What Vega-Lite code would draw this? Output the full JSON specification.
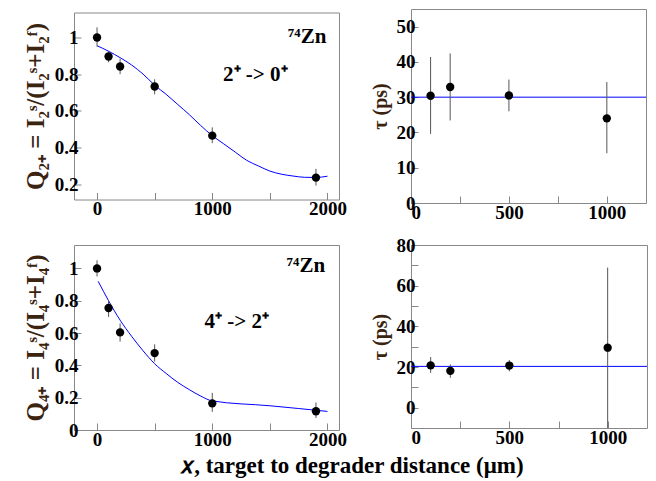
{
  "$schema": "https://vega.github.io/schema/vega-lite/v6.json",
  "padding": {"left": 22, "top": 8, "right": 5, "bottom": 5},
  "background": "white",
  "config": {
    "view": {"stroke": "#888888", "strokeWidth": 1},
    "axis": {"grid": false, "domain": false, "tickColor": "#888888", "tickSize": -7, "tickWidth": 1,
      "labelFont": "Liberation Serif", "labelFontSize": 19, "labelFontWeight": "bold", "labelColor": "#000000",
      "titleFont": "Liberation Serif", "titleFontSize": 20, "titleFontWeight": "bold", "titleColor": "#3a2410"},
    "axisX": {"labelPadding": 7},
    "axisY": {"labelPadding": 3, "titlePadding": 6}
  },
  "datasets": {
    "q2pts": [
      {"x": 0, "y": 1.0, "lo": 0.95, "hi": 1.055},
      {"x": 100, "y": 0.896, "lo": 0.865, "hi": 0.927},
      {"x": 200, "y": 0.842, "lo": 0.80, "hi": 0.884},
      {"x": 500, "y": 0.733, "lo": 0.69, "hi": 0.772},
      {"x": 1000, "y": 0.465, "lo": 0.424, "hi": 0.51},
      {"x": 1900, "y": 0.236, "lo": 0.193, "hi": 0.284}
    ],
    "q2fit": [
      {"x": 0, "y": 0.955}, {"x": 100, "y": 0.925}, {"x": 200, "y": 0.89}, {"x": 300, "y": 0.85},
      {"x": 400, "y": 0.80}, {"x": 500, "y": 0.74}, {"x": 600, "y": 0.69}, {"x": 700, "y": 0.635},
      {"x": 800, "y": 0.58}, {"x": 900, "y": 0.52}, {"x": 1000, "y": 0.465}, {"x": 1100, "y": 0.42},
      {"x": 1200, "y": 0.375}, {"x": 1300, "y": 0.33}, {"x": 1400, "y": 0.30}, {"x": 1500, "y": 0.272},
      {"x": 1600, "y": 0.255}, {"x": 1700, "y": 0.245}, {"x": 1800, "y": 0.238}, {"x": 1900, "y": 0.237},
      {"x": 2000, "y": 0.244}
    ],
    "q2txt": [
      {"x": 1824, "y": 1.005, "t": "⁷⁴Zn"},
      {"x": 1374, "y": 0.797, "t": "2⁺ -> 0⁺"}
    ],
    "q4pts": [
      {"x": 0, "y": 1.0, "lo": 0.95, "hi": 1.05},
      {"x": 100, "y": 0.755, "lo": 0.70, "hi": 0.802},
      {"x": 200, "y": 0.604, "lo": 0.547, "hi": 0.66},
      {"x": 500, "y": 0.476, "lo": 0.424, "hi": 0.53},
      {"x": 1000, "y": 0.165, "lo": 0.112, "hi": 0.23},
      {"x": 1900, "y": 0.116, "lo": 0.074, "hi": 0.17}
    ],
    "q4fit": [
      {"x": 10, "y": 0.92}, {"x": 100, "y": 0.80}, {"x": 200, "y": 0.68}, {"x": 300, "y": 0.58},
      {"x": 400, "y": 0.49}, {"x": 500, "y": 0.41}, {"x": 600, "y": 0.35}, {"x": 700, "y": 0.295},
      {"x": 800, "y": 0.25}, {"x": 900, "y": 0.21}, {"x": 1000, "y": 0.18}, {"x": 1500, "y": 0.15},
      {"x": 2000, "y": 0.115}
    ],
    "q4txt": [
      {"x": 1813, "y": 1.012, "t": "⁷⁴Zn"},
      {"x": 1213, "y": 0.67, "t": "4⁺ -> 2⁺"}
    ],
    "tau2": [
      {"x": 100, "y": 30.4, "lo": 19.6, "hi": 41.4},
      {"x": 200, "y": 32.9, "lo": 23.4, "hi": 42.4},
      {"x": 500, "y": 30.5, "lo": 26.0, "hi": 35.0},
      {"x": 1000, "y": 24.0, "lo": 14.1, "hi": 34.3}
    ],
    "tau4": [
      {"x": 100, "y": 20.8, "lo": 17.1, "hi": 24.9},
      {"x": 200, "y": 18.1, "lo": 14.7, "hi": 21.3},
      {"x": 500, "y": 20.7, "lo": 17.9, "hi": 23.4},
      {"x": 1000, "y": 29.5, "lo": -10, "hi": 68.9}
    ],
    "tau2fit": [{"y": 30.0}],
    "tau4fit": [{"y": 20.3}]
  },
  "title": {"text": "𝑥, target to degrader distance (μm)", "orient": "bottom", "anchor": "middle", "font": "Liberation Serif", "fontSize": 23, "fontWeight": "bold", "color": "#000000", "offset": 5, "dx": 17},
  "bounds": "flush",
  "spacing": {"row": 42, "column": 72},
  "center": true,
  "columns": 2,
  "concat": [
        {
          "width": 265, "height": 187,
          "layer": [
            {"data": {"name": "q2fit"}, "mark": {"type": "line", "color": "#0000ff", "strokeWidth": 1, "interpolate": "monotone"},
             "encoding": {
               "x": {"field": "x", "type": "quantitative", "scale": {"domain": [-200, 2100], "nice": false, "zero": false}, "axis": {"values": [0, 500, 1000, 1500, 2000], "format": "d", "labelExpr": "datum.value % 1000 == 0 ? datum.label : ''", "title": null}},
               "y": {"field": "y", "type": "quantitative", "scale": {"domain": [0.117, 1.136], "nice": false, "zero": false}, "axis": {"values": [0.2, 0.4, 0.6, 0.8, 1.0], "format": ".1~f", "title": "Q₂₊ = I₂ˢ/(I₂ˢ+I₂ᶠ)", "titleFontSize": 25}}
             }},
            {"data": {"name": "q2pts"}, "mark": {"type": "rule", "color": "#555555", "strokeWidth": 1},
             "encoding": {
               "x": {"field": "x", "type": "quantitative", "scale": {"domain": [-200, 2100], "nice": false, "zero": false}, "axis": {"values": [0, 500, 1000, 1500, 2000], "format": "d", "labelExpr": "datum.value % 1000 == 0 ? datum.label : ''", "title": null}},
               "y": {"field": "lo", "type": "quantitative", "scale": {"domain": [0.117, 1.136], "nice": false, "zero": false}, "axis": {"values": [0.2, 0.4, 0.6, 0.8, 1.0], "format": ".1~f", "title": "Q₂₊ = I₂ˢ/(I₂ˢ+I₂ᶠ)", "titleFontSize": 25}},
               "y2": {"field": "hi"}
             }},
            {"data": {"name": "q2pts"}, "mark": {"type": "circle", "color": "#000000", "size": 70, "opacity": 1},
             "encoding": {
               "x": {"field": "x", "type": "quantitative", "scale": {"domain": [-200, 2100], "nice": false, "zero": false}, "axis": {"values": [0, 500, 1000, 1500, 2000], "format": "d", "labelExpr": "datum.value % 1000 == 0 ? datum.label : ''", "title": null}},
               "y": {"field": "y", "type": "quantitative", "scale": {"domain": [0.117, 1.136], "nice": false, "zero": false}, "axis": {"values": [0.2, 0.4, 0.6, 0.8, 1.0], "format": ".1~f", "title": "Q₂₊ = I₂ˢ/(I₂ˢ+I₂ᶠ)", "titleFontSize": 25}}
             }},
            {"data": {"name": "q2txt"}, "mark": {"type": "text", "font": "Liberation Serif", "fontSize": 21, "fontWeight": "bold", "color": "#000000", "baseline": "middle", "align": "center"},
             "encoding": {
               "x": {"field": "x", "type": "quantitative", "scale": {"domain": [-200, 2100], "nice": false, "zero": false}, "axis": {"values": [0, 500, 1000, 1500, 2000], "format": "d", "labelExpr": "datum.value % 1000 == 0 ? datum.label : ''", "title": null}},
               "y": {"field": "y", "type": "quantitative", "scale": {"domain": [0.117, 1.136], "nice": false, "zero": false}, "axis": {"values": [0.2, 0.4, 0.6, 0.8, 1.0], "format": ".1~f", "title": "Q₂₊ = I₂ˢ/(I₂ˢ+I₂ᶠ)", "titleFontSize": 25}},
               "text": {"field": "t"}
             }}
          ]
        },
        {
          "width": 235, "height": 194,
          "layer": [
            {"data": {"name": "tau2fit"}, "mark": {"type": "rule", "color": "#0000ff", "strokeWidth": 1},
             "encoding": {
               "y": {"field": "y", "type": "quantitative", "scale": {"domain": [0, 55], "nice": false, "zero": false}, "axis": {"values": [0, 10, 20, 30, 40, 50], "title": "τ (ps)"}}
             }},
            {"data": {"name": "tau2"}, "mark": {"type": "rule", "color": "#555555", "strokeWidth": 1},
             "encoding": {
               "x": {"field": "x", "type": "quantitative", "scale": {"domain": [0, 1200], "nice": false, "zero": false}, "axis": {"values": [0, 250, 500, 750, 1000], "format": "d", "labelExpr": "datum.value % 500 == 0 ? datum.label : ''", "title": null}},
               "y": {"field": "lo", "type": "quantitative", "scale": {"domain": [0, 55], "nice": false, "zero": false}, "axis": {"values": [0, 10, 20, 30, 40, 50], "title": "τ (ps)"}},
               "y2": {"field": "hi"}
             }},
            {"data": {"name": "tau2"}, "mark": {"type": "circle", "color": "#000000", "size": 70, "opacity": 1},
             "encoding": {
               "x": {"field": "x", "type": "quantitative", "scale": {"domain": [0, 1200], "nice": false, "zero": false}, "axis": {"values": [0, 250, 500, 750, 1000], "format": "d", "labelExpr": "datum.value % 500 == 0 ? datum.label : ''", "title": null}},
               "y": {"field": "y", "type": "quantitative", "scale": {"domain": [0, 55], "nice": false, "zero": false}, "axis": {"values": [0, 10, 20, 30, 40, 50], "title": "τ (ps)"}}
             }}
          ]
        },
        {
          "width": 265, "height": 185,
          "layer": [
            {"data": {"name": "q4fit"}, "mark": {"type": "line", "color": "#0000ff", "strokeWidth": 1, "interpolate": "monotone"},
             "encoding": {
               "x": {"field": "x", "type": "quantitative", "scale": {"domain": [-200, 2100], "nice": false, "zero": false}, "axis": {"values": [0, 500, 1000, 1500, 2000], "format": "d", "labelExpr": "datum.value % 1000 == 0 ? datum.label : ''", "title": null}},
               "y": {"field": "y", "type": "quantitative", "scale": {"domain": [0, 1.145], "nice": false, "zero": false}, "axis": {"values": [0, 0.2, 0.4, 0.6, 0.8, 1.0], "format": ".1~f", "title": "Q₄₊ = I₄ˢ/(I₄ˢ+I₄ᶠ)", "titleFontSize": 25}}
             }},
            {"data": {"name": "q4pts"}, "mark": {"type": "rule", "color": "#555555", "strokeWidth": 1},
             "encoding": {
               "x": {"field": "x", "type": "quantitative", "scale": {"domain": [-200, 2100], "nice": false, "zero": false}, "axis": {"values": [0, 500, 1000, 1500, 2000], "format": "d", "labelExpr": "datum.value % 1000 == 0 ? datum.label : ''", "title": null}},
               "y": {"field": "lo", "type": "quantitative", "scale": {"domain": [0, 1.145], "nice": false, "zero": false}, "axis": {"values": [0, 0.2, 0.4, 0.6, 0.8, 1.0], "format": ".1~f", "title": "Q₄₊ = I₄ˢ/(I₄ˢ+I₄ᶠ)", "titleFontSize": 25}},
               "y2": {"field": "hi"}
             }},
            {"data": {"name": "q4pts"}, "mark": {"type": "circle", "color": "#000000", "size": 70, "opacity": 1},
             "encoding": {
               "x": {"field": "x", "type": "quantitative", "scale": {"domain": [-200, 2100], "nice": false, "zero": false}, "axis": {"values": [0, 500, 1000, 1500, 2000], "format": "d", "labelExpr": "datum.value % 1000 == 0 ? datum.label : ''", "title": null}},
               "y": {"field": "y", "type": "quantitative", "scale": {"domain": [0, 1.145], "nice": false, "zero": false}, "axis": {"values": [0, 0.2, 0.4, 0.6, 0.8, 1.0], "format": ".1~f", "title": "Q₄₊ = I₄ˢ/(I₄ˢ+I₄ᶠ)", "titleFontSize": 25}}
             }},
            {"data": {"name": "q4txt"}, "mark": {"type": "text", "font": "Liberation Serif", "fontSize": 21, "fontWeight": "bold", "color": "#000000", "baseline": "middle", "align": "center"},
             "encoding": {
               "x": {"field": "x", "type": "quantitative", "scale": {"domain": [-200, 2100], "nice": false, "zero": false}, "axis": {"values": [0, 500, 1000, 1500, 2000], "format": "d", "labelExpr": "datum.value % 1000 == 0 ? datum.label : ''", "title": null}},
               "y": {"field": "y", "type": "quantitative", "scale": {"domain": [0, 1.145], "nice": false, "zero": false}, "axis": {"values": [0, 0.2, 0.4, 0.6, 0.8, 1.0], "format": ".1~f", "title": "Q₄₊ = I₄ˢ/(I₄ˢ+I₄ᶠ)", "titleFontSize": 25}},
               "text": {"field": "t"}
             }}
          ]
        },
        {
          "width": 236, "height": 183,
          "layer": [
            {"data": {"name": "tau4fit"}, "mark": {"type": "rule", "color": "#0000ff", "strokeWidth": 1},
             "encoding": {
               "y": {"field": "y", "type": "quantitative", "scale": {"domain": [-10, 80], "nice": false, "zero": false}, "axis": {"values": [-10, 0, 10, 20, 30, 40, 50, 60, 70, 80], "labelExpr": "datum.value % 20 == 0 ? datum.label : ''", "title": "τ (ps)"}}
             }},
            {"data": {"name": "tau4"}, "mark": {"type": "rule", "color": "#555555", "strokeWidth": 1},
             "encoding": {
               "x": {"field": "x", "type": "quantitative", "scale": {"domain": [0, 1200], "nice": false, "zero": false}, "axis": {"values": [0, 250, 500, 750, 1000], "format": "d", "labelExpr": "datum.value % 500 == 0 ? datum.label : ''", "title": null}},
               "y": {"field": "lo", "type": "quantitative", "scale": {"domain": [-10, 80], "nice": false, "zero": false}, "axis": {"values": [-10, 0, 10, 20, 30, 40, 50, 60, 70, 80], "labelExpr": "datum.value % 20 == 0 ? datum.label : ''", "title": "τ (ps)"}},
               "y2": {"field": "hi"}
             }},
            {"data": {"name": "tau4"}, "mark": {"type": "circle", "color": "#000000", "size": 70, "opacity": 1},
             "encoding": {
               "x": {"field": "x", "type": "quantitative", "scale": {"domain": [0, 1200], "nice": false, "zero": false}, "axis": {"values": [0, 250, 500, 750, 1000], "format": "d", "labelExpr": "datum.value % 500 == 0 ? datum.label : ''", "title": null}},
               "y": {"field": "y", "type": "quantitative", "scale": {"domain": [-10, 80], "nice": false, "zero": false}, "axis": {"values": [-10, 0, 10, 20, 30, 40, 50, 60, 70, 80], "labelExpr": "datum.value % 20 == 0 ? datum.label : ''", "title": "τ (ps)"}}
             }}
          ]
        }
  ]
}
